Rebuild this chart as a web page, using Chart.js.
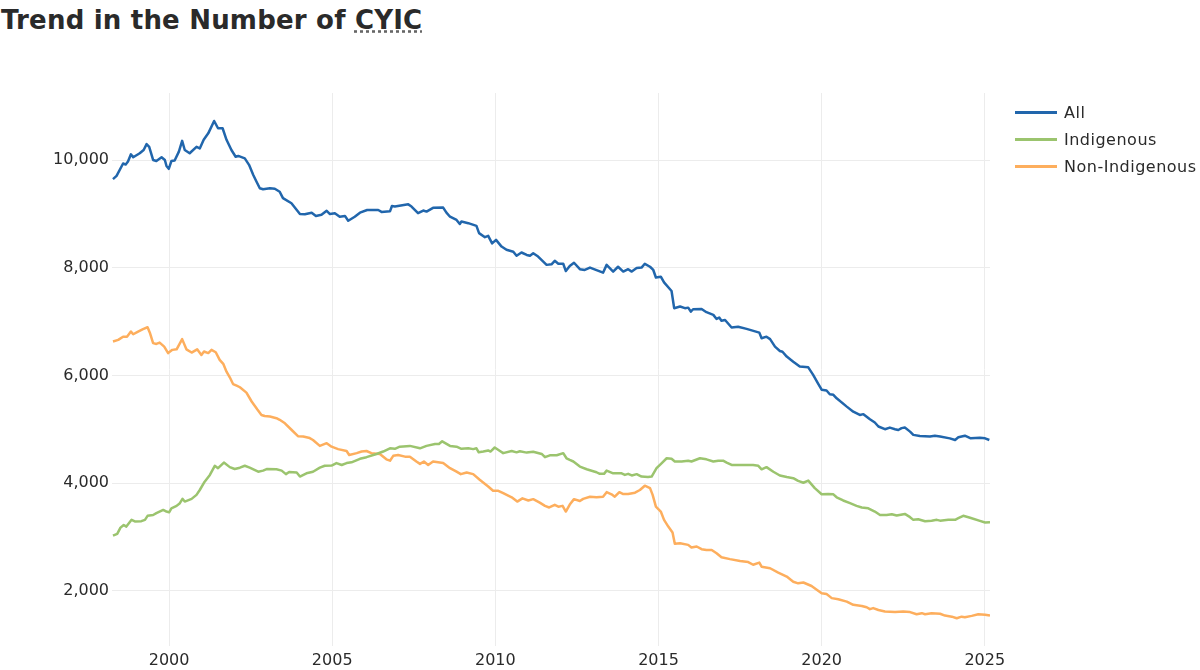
<!DOCTYPE html>
<html>
<head>
<meta charset="utf-8">
<title>Trend in the Number of CYIC</title>
<script src="https://cdn.jsdelivr.net/npm/chart.js@4.4.1/dist/chart.umd.min.js"></script>
<style>
    body { margin: 0; background: #fff; font-family: "DejaVu Sans", Verdana, sans-serif; }
    #wrap { position: relative; width: 1200px; height: 670px; overflow: hidden; }
    #chart { position: absolute; left: 0; top: 0; }
    h1 {
        position: absolute; left: 1px; top: 7px; margin: 0; letter-spacing: 0.2px;
        font: bold 26px/26px "DejaVu Sans", Verdana, sans-serif; color: #2a2a2a;
    }
    abbr { text-decoration: underline dotted #666; text-underline-offset: 1px; }
    #legend { position: absolute; left: 1015px; top: 99px; }
    .item { display: flex; align-items: center; height: 27px; font-size: 16px; letter-spacing: 0.5px; color: #2a2a2a; white-space: nowrap; }
    .swatch { width: 42px; height: 3px; margin-right: 7px; }
</style>
</head>
<body>
<div id="wrap">
    <h1>Trend in the Number of <abbr title="Children and Youth in Care">CYIC</abbr></h1>
    <canvas id="chart" width="1200" height="670"></canvas>
    <div id="legend"></div>
</div>
<script>
// Values (decimal year, count)
const allYears = [1998.28, 1998.39, 1998.59, 1998.67, 1998.74, 1998.83, 1998.90, 1999.10, 1999.22, 1999.31,
    1999.39, 1999.51, 1999.61, 1999.77, 1999.87, 1999.92, 1999.99, 2000.07, 2000.17, 2000.30,
    2000.40, 2000.48, 2000.63, 2000.84, 2000.94, 2001.06, 2001.20, 2001.38, 2001.50, 2001.64,
    2001.76, 2001.91, 2002.04, 2002.12, 2002.32, 2002.45, 2002.58, 2002.68, 2002.78, 2002.88,
    2003.09, 2003.24, 2003.39, 2003.49, 2003.75, 2004.01, 2004.16, 2004.37, 2004.50, 2004.67,
    2004.83, 2004.93, 2005.08, 2005.23, 2005.39, 2005.49, 2005.69, 2005.85, 2006.07, 2006.41,
    2006.51, 2006.77, 2006.83, 2006.92, 2007.33, 2007.43, 2007.63, 2007.79, 2007.89, 2008.09,
    2008.40, 2008.50, 2008.61, 2008.81, 2008.91, 2008.96, 2009.17, 2009.42, 2009.50, 2009.68,
    2009.78, 2009.90, 2010.02, 2010.19, 2010.34, 2010.55, 2010.65, 2010.80, 2010.96, 2011.06,
    2011.16, 2011.31, 2011.57, 2011.72, 2011.82, 2011.93, 2012.08, 2012.16, 2012.28, 2012.41,
    2012.59, 2012.74, 2012.90, 2013.30, 2013.41, 2013.61, 2013.76, 2013.92, 2014.07, 2014.18,
    2014.33, 2014.48, 2014.58, 2014.74, 2014.84, 2014.92, 2015.07, 2015.17, 2015.40, 2015.48,
    2015.66, 2015.81, 2015.91, 2015.99, 2016.06, 2016.32, 2016.47, 2016.68, 2016.78, 2016.86,
    2016.93, 2017.04, 2017.24, 2017.44, 2017.70, 2018.09, 2018.16, 2018.31, 2018.42, 2018.57,
    2018.72, 2018.80, 2018.93, 2019.13, 2019.33, 2019.59, 2019.74, 2019.90, 2020.00, 2020.15,
    2020.25, 2020.36, 2020.46, 2020.77, 2020.97, 2021.17, 2021.28, 2021.48, 2021.63, 2021.74,
    2021.94, 2022.09, 2022.25, 2022.35, 2022.45, 2022.55, 2022.71, 2022.81, 2023.01, 2023.32,
    2023.47, 2023.63, 2023.93, 2024.09, 2024.19, 2024.39, 2024.57, 2024.85, 2025.01, 2025.14];
const allValues = [9650, 9710, 9940, 9920, 9975, 10110, 10055, 10130, 10190, 10300,
    10250, 10005, 9985, 10055, 10005, 9895, 9840, 9985, 9995, 10160,
    10360, 10190, 10130, 10250, 10220, 10380, 10500, 10730, 10595, 10595,
    10380, 10190, 10065, 10080, 10035, 9915, 9725, 9600, 9480, 9460,
    9480, 9470, 9415, 9295, 9200, 9000, 8995, 9025, 8965, 8985,
    9060, 9000, 9015, 8950, 8965, 8875, 8950, 9025, 9075, 9075,
    9040, 9050, 9150, 9140, 9180, 9140, 9015, 9065, 9045, 9115,
    9120, 9025, 8950, 8890, 8815, 8860, 8830, 8780, 8645, 8570,
    8595, 8455, 8520, 8395, 8335, 8300, 8225, 8285, 8240, 8225,
    8270, 8210, 8055, 8065, 8130, 8075, 8075, 7940, 8035, 8095,
    7975, 7960, 8005, 7910, 8055, 7930, 8020, 7930, 7975, 7930,
    7995, 8005, 8075, 8020, 7960, 7820, 7835, 7730, 7570, 7250,
    7280, 7250, 7260, 7185, 7230, 7235, 7175, 7125, 7050, 7075,
    7015, 7030, 6890, 6905, 6865, 6795, 6690, 6720, 6675, 6535,
    6455, 6440, 6350, 6255, 6165, 6150, 6010, 5840, 5735, 5720,
    5650, 5640, 5575, 5420, 5325, 5265, 5280, 5185, 5125, 5050,
    5000, 5030, 5000, 4985, 5020, 5030, 4955, 4895, 4875, 4865,
    4880, 4865, 4830, 4800, 4850, 4880, 4830, 4840, 4830, 4800];

const indigenousYears = [1998.28, 1998.41, 1998.51, 1998.61, 1998.69, 1998.85, 1998.95, 1999.15, 1999.26, 1999.34,
    1999.51, 1999.61, 1999.82, 1999.92, 2000.00, 2000.07, 2000.23, 2000.33, 2000.41, 2000.48,
    2000.69, 2000.84, 2000.94, 2001.09, 2001.25, 2001.40, 2001.50, 2001.68, 2001.86, 2002.01,
    2002.17, 2002.32, 2002.47, 2002.73, 2002.88, 2002.99, 2003.29, 2003.45, 2003.58, 2003.68,
    2003.91, 2004.01, 2004.21, 2004.41, 2004.62, 2004.77, 2004.98, 2005.13, 2005.29, 2005.44,
    2005.59, 2005.85, 2006.05, 2006.36, 2006.56, 2006.77, 2006.92, 2007.07, 2007.38, 2007.69,
    2007.89, 2008.15, 2008.27, 2008.37, 2008.61, 2008.81, 2008.96, 2009.17, 2009.32, 2009.42,
    2009.49, 2009.63, 2009.78, 2009.85, 2009.98, 2010.14, 2010.24, 2010.50, 2010.65, 2010.75,
    2010.96, 2011.16, 2011.42, 2011.52, 2011.67, 2011.88, 2012.08, 2012.18, 2012.28, 2012.39,
    2012.59, 2012.80, 2013.10, 2013.20, 2013.33, 2013.41, 2013.61, 2013.87, 2013.97, 2014.07,
    2014.18, 2014.33, 2014.48, 2014.68, 2014.79, 2014.94, 2015.10, 2015.25, 2015.40, 2015.50,
    2015.71, 2015.91, 2016.01, 2016.27, 2016.47, 2016.68, 2016.83, 2016.98, 2017.09, 2017.24,
    2017.50, 2017.90, 2018.06, 2018.16, 2018.31, 2018.52, 2018.72, 2018.93, 2019.13, 2019.28,
    2019.44, 2019.59, 2019.79, 2020.00, 2020.20, 2020.36, 2020.46, 2020.66, 2020.87, 2021.07,
    2021.23, 2021.43, 2021.63, 2021.79, 2021.99, 2022.15, 2022.30, 2022.55, 2022.71, 2022.81,
    2022.96, 2023.17, 2023.37, 2023.53, 2023.63, 2023.88, 2024.09, 2024.19, 2024.34, 2024.55,
    2024.85, 2025.01, 2025.16];
const indigenousValues = [3020, 3055, 3170, 3220, 3190, 3315, 3285, 3290, 3315, 3390,
    3405, 3440, 3500, 3470, 3455, 3530, 3575, 3625, 3705, 3655,
    3705, 3780, 3870, 4025, 4150, 4320, 4275, 4380, 4295, 4260,
    4285, 4320, 4285, 4210, 4230, 4260, 4255, 4230, 4165, 4205,
    4195, 4120, 4180, 4210, 4285, 4320, 4325, 4370, 4335, 4370,
    4385, 4450, 4480, 4540, 4585, 4645, 4635, 4675, 4690, 4645,
    4690, 4725, 4725, 4775, 4690, 4675, 4635, 4645, 4630, 4645,
    4570, 4585, 4605, 4585, 4660, 4595, 4555, 4595, 4570, 4590,
    4565, 4580, 4540, 4480, 4515, 4515, 4555, 4460, 4430, 4400,
    4305, 4255, 4200, 4170, 4170, 4230, 4180, 4180, 4150, 4170,
    4140, 4165, 4120, 4110, 4120, 4275, 4370, 4460, 4450, 4400,
    4400, 4415, 4400, 4460, 4440, 4400, 4415, 4415, 4380, 4335,
    4335, 4335, 4320, 4255, 4295, 4210, 4140, 4110, 4090, 4040,
    4005, 4045, 3905, 3790, 3795, 3790, 3735, 3675, 3625, 3575,
    3545, 3530, 3470, 3405, 3405, 3420, 3395, 3425, 3365, 3315,
    3325, 3290, 3300, 3315, 3300, 3315, 3315, 3345, 3390, 3355,
    3295, 3265, 3270];

const nonIndigenousYears = [1998.28, 1998.44, 1998.59, 1998.71, 1998.83, 1998.90, 1999.05, 1999.20, 1999.34, 1999.41,
    1999.51, 1999.61, 1999.71, 1999.85, 1999.97, 2000.10, 2000.23, 2000.40, 2000.53, 2000.69,
    2000.86, 2000.99, 2001.07, 2001.20, 2001.30, 2001.43, 2001.55, 2001.66, 2001.76, 2001.86,
    2001.96, 2002.07, 2002.17, 2002.37, 2002.53, 2002.70, 2002.83, 2002.93, 2003.09, 2003.29,
    2003.39, 2003.55, 2003.75, 2003.95, 2004.11, 2004.31, 2004.41, 2004.62, 2004.83, 2004.98,
    2005.18, 2005.44, 2005.52, 2005.75, 2005.90, 2006.05, 2006.20, 2006.46, 2006.66, 2006.77,
    2006.87, 2007.02, 2007.23, 2007.38, 2007.58, 2007.69, 2007.81, 2007.94, 2008.09, 2008.40,
    2008.61, 2008.81, 2008.94, 2009.12, 2009.32, 2009.52, 2009.78, 2009.93, 2010.09, 2010.24,
    2010.50, 2010.67, 2010.83, 2011.01, 2011.16, 2011.36, 2011.52, 2011.65, 2011.82, 2011.93,
    2012.06, 2012.16, 2012.28, 2012.41, 2012.59, 2012.69, 2012.90, 2013.10, 2013.30, 2013.41,
    2013.56, 2013.66, 2013.80, 2013.92, 2014.07, 2014.28, 2014.43, 2014.58, 2014.74, 2014.82,
    2014.92, 2015.07, 2015.17, 2015.30, 2015.43, 2015.50, 2015.66, 2015.91, 2016.01, 2016.17,
    2016.32, 2016.47, 2016.63, 2016.78, 2016.93, 2017.19, 2017.50, 2017.75, 2017.90, 2018.09,
    2018.16, 2018.42, 2018.67, 2018.93, 2019.13, 2019.28, 2019.44, 2019.69, 2019.85, 2020.00,
    2020.15, 2020.31, 2020.51, 2020.77, 2020.97, 2021.23, 2021.38, 2021.48, 2021.58, 2021.74,
    2021.94, 2022.25, 2022.50, 2022.71, 2022.91, 2023.07, 2023.17, 2023.37, 2023.63, 2023.78,
    2023.99, 2024.14, 2024.29, 2024.39, 2024.60, 2024.80, 2025.01, 2025.16];
const nonIndigenousValues = [6630, 6660, 6720, 6720, 6815, 6765, 6815, 6860, 6895, 6795,
    6600, 6585, 6610, 6535, 6415, 6475, 6485, 6675, 6485, 6425,
    6485, 6380, 6445, 6415, 6475, 6430, 6290, 6215, 6070, 5965,
    5840, 5810, 5780, 5680, 5515, 5370, 5265, 5245, 5235, 5205,
    5175, 5110, 4990, 4870, 4865, 4835, 4800, 4690, 4740, 4675,
    4630, 4595, 4520, 4555, 4585, 4595, 4555, 4540, 4440, 4415,
    4505, 4520, 4490, 4490, 4400, 4355, 4400, 4335, 4400, 4370,
    4275, 4210, 4165, 4195, 4165, 4060, 3935, 3855, 3855, 3810,
    3735, 3655, 3715, 3675, 3700, 3635, 3575, 3545, 3595, 3560,
    3575, 3470, 3600, 3700, 3665, 3705, 3745, 3735, 3745, 3830,
    3790, 3745, 3830, 3795, 3795, 3820, 3870, 3950, 3905, 3780,
    3560, 3470, 3315, 3190, 3080, 2870, 2880, 2850, 2800, 2820,
    2770, 2755, 2755, 2695, 2620, 2585, 2550, 2530, 2480, 2520,
    2445, 2415, 2335, 2260, 2165, 2135, 2150, 2085, 2015, 1950,
    1935, 1860, 1840, 1795, 1735, 1715, 1690, 1655, 1675, 1640,
    1610, 1600, 1610, 1600, 1560, 1580, 1560, 1580, 1570, 1535,
    1515, 1485, 1515, 1505, 1530, 1560, 1550, 1535];

const seriesLabels = ['All', 'Indigenous', 'Non-Indigenous'];
const seriesColors = ['#2166ac', '#9bc46e', '#fdae5d'];
const xTicks = [2000, 2005, 2010, 2015, 2020, 2025];
const yTicks = [2000, 4000, 6000, 8000, 10000];

function toPoints(years, values) {
    return years.map((year, i) => ({ x: year, y: values[i] }));
}

const seriesData = [
    toPoints(allYears, allValues),
    toPoints(indigenousYears, indigenousValues),
    toPoints(nonIndigenousYears, nonIndigenousValues)
];

const font = { family: '"DejaVu Sans", Verdana, sans-serif', size: 16 };
const gridColor = '#ececec';

const ctx = document.getElementById('chart').getContext('2d');
const chart = new Chart(ctx, {
    type: 'line',
    data: {
        datasets: seriesLabels.map((label, i) => ({
            label: label,
            data: seriesData[i],
            borderColor: seriesColors[i],
            backgroundColor: seriesColors[i],
            borderWidth: 2.5,
            pointRadius: 0,
            tension: 0,
            borderJoinStyle: 'round',
            fill: false
        }))
    },
    options: {
        responsive: false,
        animation: false,
        events: [],
        layout: { padding: { top: 93, right: 210, left: 0, bottom: 0 } },
        plugins: {
            legend: { display: false },
            tooltip: { enabled: false }
        },
        scales: {
            x: {
                type: 'linear',
                min: 1998.25,
                max: 2025.16,
                afterBuildTicks: scale => { scale.ticks = xTicks.map(v => ({ value: v })); },
                afterFit: scale => { scale.height = 24; },
                grid: { color: gridColor, drawTicks: false },
                border: { display: false },
                ticks: {
                    font: font,
                    color: '#2a2a2a',
                    padding: 5,
                    maxRotation: 0,
                    callback: v => String(v)
                }
            },
            y: {
                min: 970,
                max: 11250,
                afterBuildTicks: scale => { scale.ticks = yTicks.map(v => ({ value: v })); },
                afterFit: scale => { scale.width = 112; },
                grid: { color: gridColor, drawTicks: false },
                border: { display: false },
                ticks: {
                    font: font,
                    color: '#2a2a2a',
                    padding: 3,
                    callback: v => v.toLocaleString('en-US')
                }
            }
        }
    }
});

// Legend drawn as HTML next to the plot
const legend = document.getElementById('legend');
chart.data.datasets.forEach(ds => {
    const item = document.createElement('div');
    item.className = 'item';
    item.innerHTML = `<span class="swatch" style="background:${ds.borderColor}"></span>${ds.label}`;
    legend.appendChild(item);
});
</script>
</body>
</html>
